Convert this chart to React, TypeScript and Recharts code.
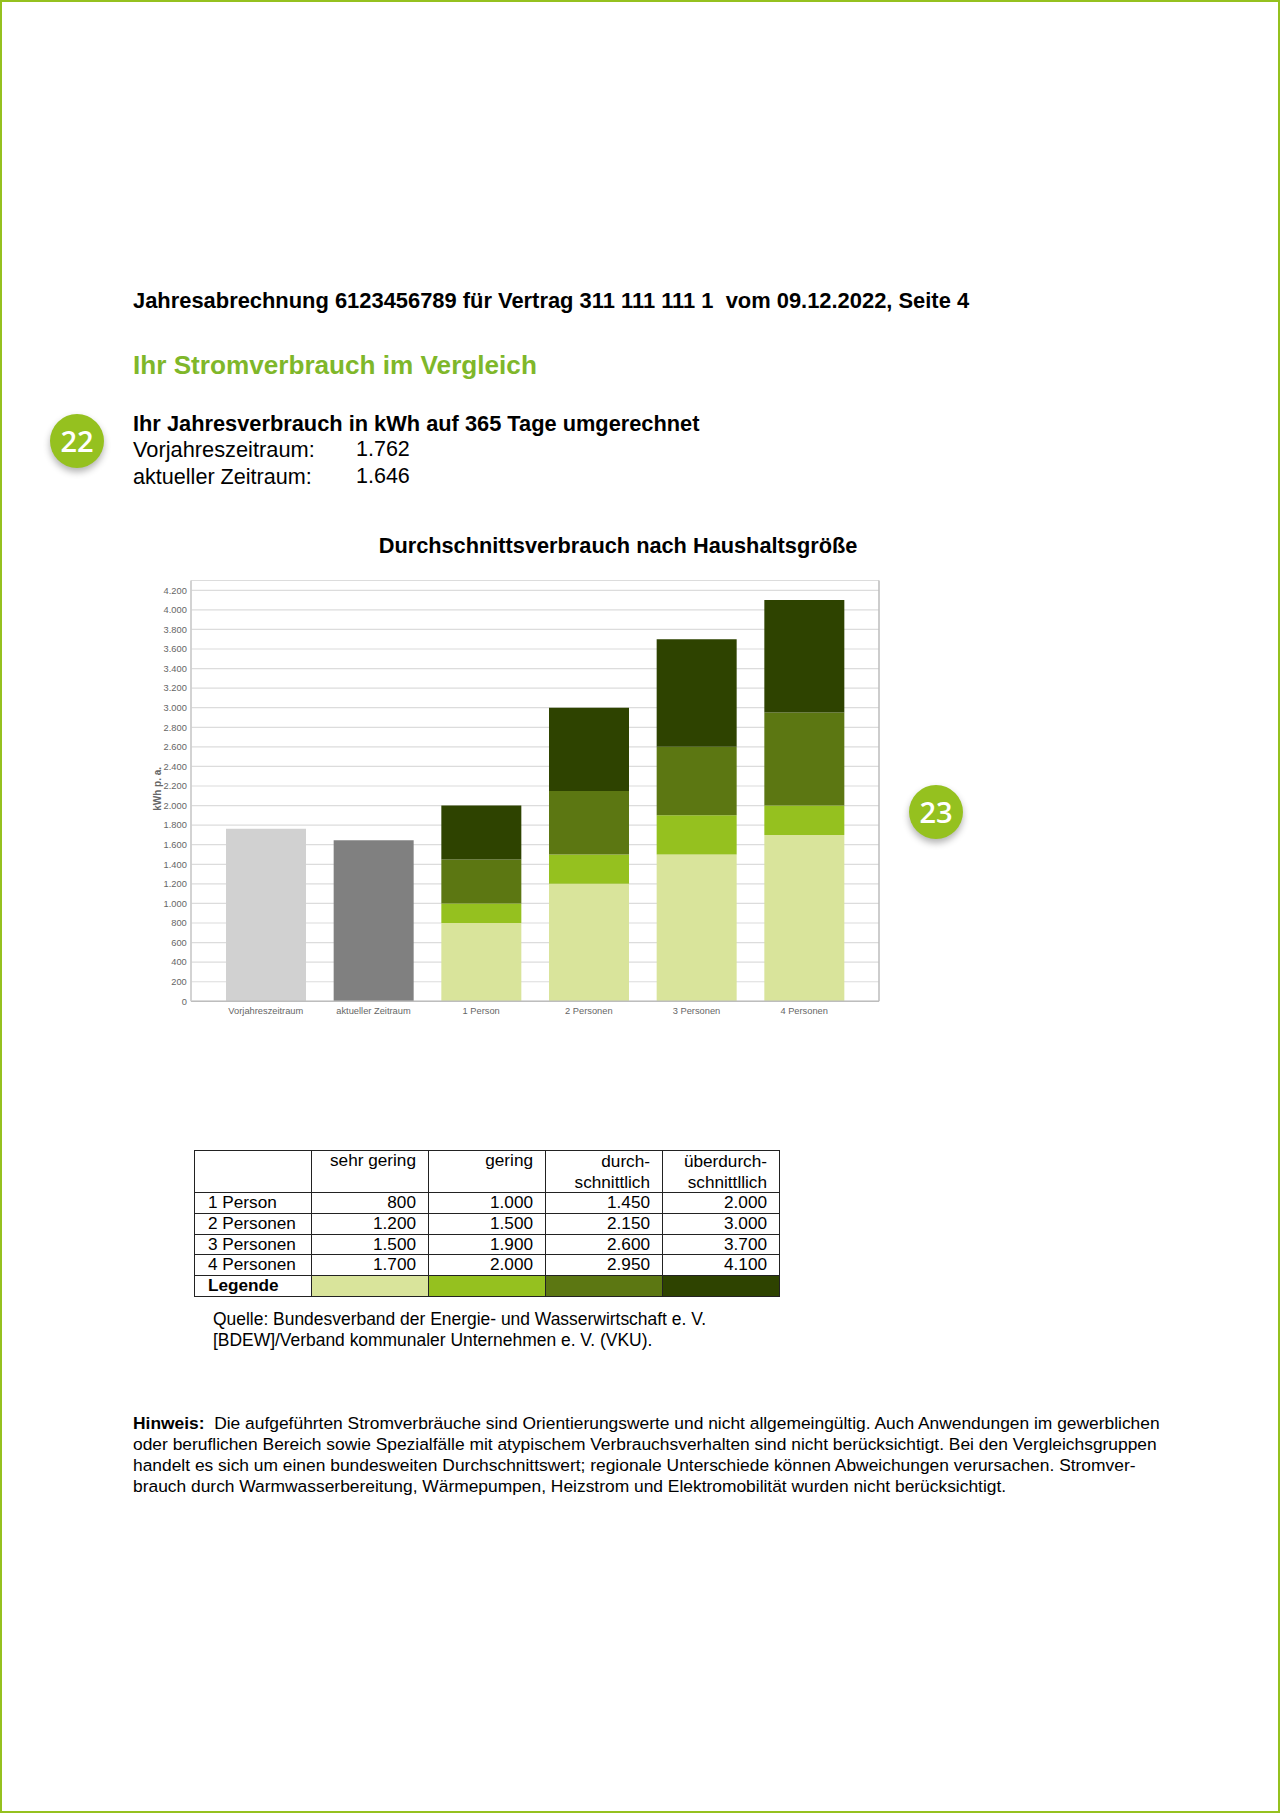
import React from 'react';
import { BarChart, Bar, XAxis, YAxis, CartesianGrid } from 'recharts';

const GREEN = '#95c11f';
const FONT = '"Liberation Sans", Arial, sans-serif';

// Balken
const categories = ['Vorjahreszeitraum', 'aktueller Zeitraum', '1 Person', '2 Personen', '3 Personen', '4 Personen'];
const vorjahr = [1762, 0, 0, 0, 0, 0];
const aktuell = [0, 1646, 0, 0, 0, 0];
const sehrGering = [0, 0, 800, 1200, 1500, 1700];
const gering = [0, 0, 1000, 1500, 1900, 2000];
const durchschnittlich = [0, 0, 1450, 2150, 2600, 2950];
const ueberdurchschnittlich = [0, 0, 2000, 3000, 3700, 4100];
const yTicks = [0, 200, 400, 600, 800, 1000, 1200, 1400, 1600, 1800, 2000, 2200, 2400, 2600, 2800, 3000, 3200, 3400, 3600, 3800, 4000, 4200];

// Tabelle
const tableRows = ['1 Person', '2 Personen', '3 Personen', '4 Personen'];
const legendColors = ['#d9e49b', '#95c11f', '#5c7712', '#2e4300'];

const fmt = (v: number) => v.toLocaleString('de-DE');

// Gestapelte Segmente: Differenz der kumulierten Tabellenwerte
const chartData = categories.map((name, i) => ({
  name,
  vorjahr: vorjahr[i],
  aktuell: aktuell[i],
  s1: sehrGering[i],
  s2: gering[i] - sehrGering[i],
  s3: durchschnittlich[i] - gering[i],
  s4: ueberdurchschnittlich[i] - durchschnittlich[i],
}));

const Txt = ({ x, y, size, bold, color, children }: any) => (
  <div style={{ position: 'absolute', left: x, top: y, fontSize: size, fontWeight: bold ? 700 : 400, color: color || '#000', whiteSpace: 'pre', lineHeight: 1 }}>
    {children}
  </div>
);

const Badge = ({ x, y, label }: any) => (
  <div style={{
    position: 'absolute', left: x - 27, top: y - 27, width: 54, height: 54, borderRadius: '50%', background: GREEN,
    boxShadow: '0 4px 7px rgba(0,0,0,0.3)', color: '#fff', fontFamily: '"Open Sans", sans-serif', fontWeight: 600,
    fontSize: 29, lineHeight: '54px', textAlign: 'center',
  }}>
    {label}
  </div>
);

const cell: React.CSSProperties = { border: '1px solid #222', padding: '0 12px 0 0', textAlign: 'right', verticalAlign: 'top', lineHeight: '19.8px', boxSizing: 'border-box', height: 20.8 };

export default function App() {
  return (
    <div style={{ position: 'absolute', left: 0, top: 0, width: 1280, height: 1813, boxSizing: 'border-box', border: `2px solid ${GREEN}`, background: '#fff', fontFamily: FONT, overflow: 'hidden' }}>
      <div style={{ position: 'absolute', left: -2, top: -2, width: 1280, height: 1813 }}>
        <Txt x={133} y={290} size={21.9} bold>Jahresabrechnung 6123456789 für Vertrag 311 111 111 1  vom 09.12.2022, Seite 4</Txt>
        <Txt x={133} y={352} size={26.15} bold color="#7fb72a">Ihr Stromverbrauch im Vergleich</Txt>
        <Txt x={133} y={413} size={21.8} bold>Ihr Jahresverbrauch in kWh auf 365 Tage umgerechnet</Txt>
        <Txt x={133} y={439} size={21.8}>Vorjahreszeitraum:</Txt>
        <Txt x={356} y={439} size={21.5}>1.762</Txt>
        <Txt x={133} y={466} size={21.6}>aktueller Zeitraum:</Txt>
        <Txt x={356} y={466} size={21.5}>1.646</Txt>
        <Badge x={77} y={441} label="22" />
        <Badge x={936} y={812} label="23" />

        <div style={{ position: 'absolute', left: 0, top: 535, width: 1236, textAlign: 'center', fontSize: 21.75, fontWeight: 700, lineHeight: 1 }}>
          Durchschnittsverbrauch nach Haushaltsgröße
        </div>

        <div style={{ position: 'absolute', left: 150, top: 570 }}>
          <BarChart width={740} height={460} data={chartData} barSize={80} margin={{ top: 10.5, right: 10, bottom: 0, left: 0 }}>
            <CartesianGrid vertical={false} stroke="#dcdcdc" strokeWidth={1.2} />
            <XAxis dataKey="name" interval={0} height={28.7} padding={{ left: 21, right: 21 }} tickLine={false} tickSize={0} tickMargin={6.5}
              axisLine={{ stroke: '#bdbdbd', strokeWidth: 1.5 }} tick={{ fontSize: 9.3, fill: '#666', fontFamily: FONT }} />
            <XAxis xAxisId="top" orientation="top" dataKey="name" height={0} tick={false} tickLine={false} axisLine={{ stroke: '#bdbdbd', strokeWidth: 1.5 }} />
            <YAxis domain={[0, 4300]} ticks={yTicks} width={41} interval={0} tickLine={false} tickSize={0} tickMargin={4.2} tickFormatter={fmt}
              axisLine={{ stroke: '#cfcfcf', strokeWidth: 1.8 }} tick={{ fontSize: 9.3, fill: '#666', fontFamily: FONT }}
              label={{ value: 'kWh p. a.', angle: -90, position: 'insideLeft', offset: 7, dy: -2, style: { textAnchor: 'middle', fontSize: 10, fontWeight: 700, fill: '#666', fontFamily: FONT } }} />
            <YAxis yAxisId="right" orientation="right" domain={[0, 4300]} width={1} tick={false} tickLine={false} axisLine={{ stroke: '#bdbdbd', strokeWidth: 1.5 }} />
            <Bar dataKey="vorjahr" stackId="a" fill="#d1d1d1" isAnimationActive={false} />
            <Bar dataKey="aktuell" stackId="a" fill="#808080" isAnimationActive={false} />
            <Bar dataKey="s1" stackId="a" fill={legendColors[0]} isAnimationActive={false} />
            <Bar dataKey="s2" stackId="a" fill={legendColors[1]} isAnimationActive={false} />
            <Bar dataKey="s3" stackId="a" fill={legendColors[2]} isAnimationActive={false} />
            <Bar dataKey="s4" stackId="a" fill={legendColors[3]} isAnimationActive={false} />
          </BarChart>
        </div>

        {/* Tabelle */}
        <table style={{ position: 'absolute', left: 194, top: 1150, width: 585, tableLayout: 'fixed', borderCollapse: 'collapse', fontSize: 17.2, color: '#000' }}>
          <colgroup>
            <col style={{ width: 117 }} /><col style={{ width: 117 }} /><col style={{ width: 117 }} /><col style={{ width: 117 }} /><col style={{ width: 117 }} />
          </colgroup>
          <tbody>
            <tr>
              <td style={{ ...cell, height: 42 }}></td>
              <td style={cell}>sehr gering</td>
              <td style={cell}>gering</td>
              <td style={{ ...cell, lineHeight: '20.5px' }}>durch-<br />schnittlich</td>
              <td style={{ ...cell, lineHeight: '20.5px' }}>überdurch-<br />schnittllich</td>
            </tr>
            {tableRows.map((row, i) => (
              <tr key={row}>
                <td style={{ ...cell, textAlign: 'left', paddingLeft: 13 }}>{row}</td>
                <td style={cell}>{fmt(sehrGering[i + 2])}</td>
                <td style={cell}>{fmt(gering[i + 2])}</td>
                <td style={cell}>{fmt(durchschnittlich[i + 2])}</td>
                <td style={cell}>{fmt(ueberdurchschnittlich[i + 2])}</td>
              </tr>
            ))}
            <tr>
              <td style={{ ...cell, textAlign: 'left', paddingLeft: 13, fontWeight: 700 }}>Legende</td>
              {legendColors.map((c) => <td key={c} style={{ ...cell, background: c }}></td>)}
            </tr>
          </tbody>
        </table>

        <Txt x={213} y={1311} size={17.45}>Quelle: Bundesverband der Energie- und Wasserwirtschaft e. V.</Txt>
        <Txt x={213} y={1332} size={17.45}>[BDEW]/Verband kommunaler Unternehmen e. V. (VKU).</Txt>

        <Txt x={133} y={1415} size={17.4}><b>Hinweis:</b>  Die aufgeführten Stromverbräuche sind Orientierungswerte und nicht allgemeingültig. Auch Anwendungen im gewerblichen</Txt>
        <Txt x={133} y={1436} size={17.4}>oder beruflichen Bereich sowie Spezialfälle mit atypischem Verbrauchsverhalten sind nicht berücksichtigt. Bei den Vergleichsgruppen</Txt>
        <Txt x={133} y={1457} size={17.4}>handelt es sich um einen bundesweiten Durchschnittswert; regionale Unterschiede können Abweichungen verursachen. Stromver-</Txt>
        <Txt x={133} y={1478} size={17.4}>brauch durch Warmwasserbereitung, Wärmepumpen, Heizstrom und Elektromobilität wurden nicht berücksichtigt.</Txt>
      </div>
    </div>
  );
}
